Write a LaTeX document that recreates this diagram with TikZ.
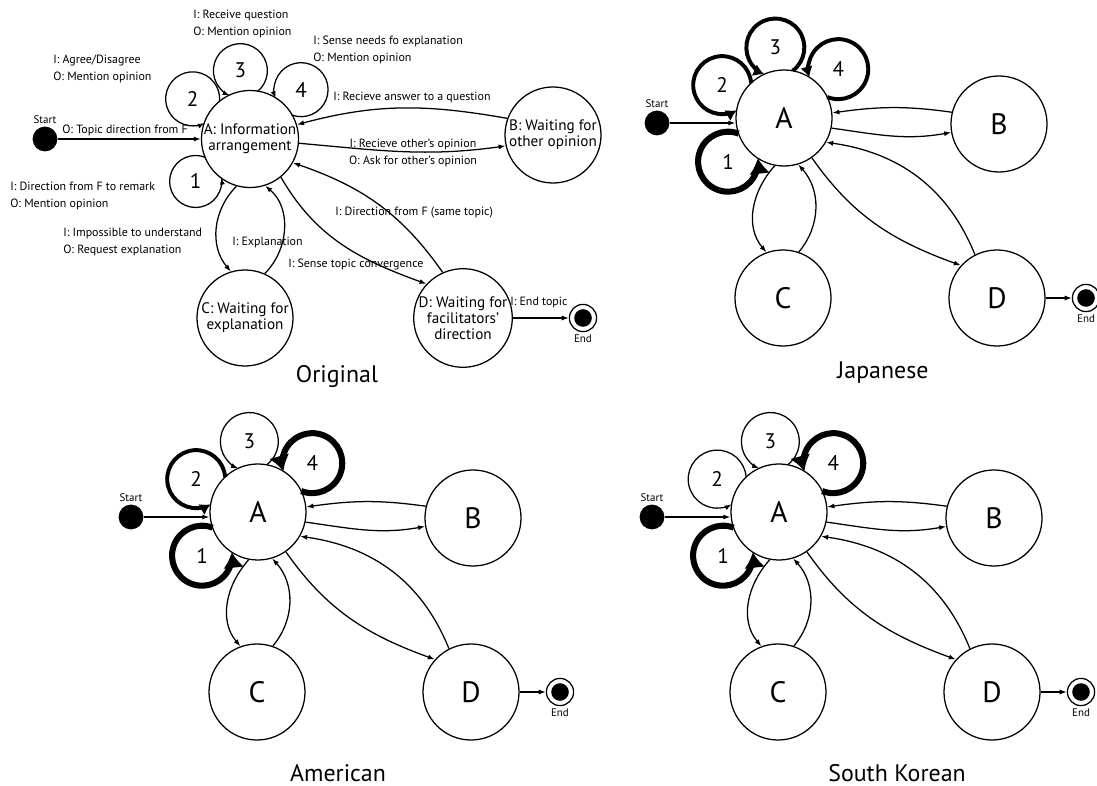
\documentclass[tikz,border=0pt]{standalone}
\usepackage{fontspec}
\setmainfont{PT Sans}
\usetikzlibrary{arrows.meta,calc}

\tikzset{
  state/.style={circle, draw, line width=0.9pt, minimum size=2.4cm, inner sep=0pt, align=center,
    font=\fontsize{10.8}{11.5}\selectfont},
  letter/.style={state, font=\fontsize{21}{21}\selectfont},
  note/.style={anchor=west, align=left, inner sep=0pt, font=\fontsize{8.5}{11.5}\selectfont},
  tag/.style={inner sep=1.5pt, font=\fontsize{7.8}{8}\selectfont},
  digit/.style={inner sep=0pt, font=\fontsize{15}{15}\selectfont},
  caption/.style={inner sep=0pt, font=\fontsize{17}{17}\selectfont},
  startdot/.style={circle, fill=black, minimum size=0.62cm, inner sep=0pt},
  enddot/.style={circle, draw, line width=0.9pt, minimum size=0.68cm, inner sep=0pt,
    path picture={\fill (path picture bounding box.center) circle (0.22cm);}},
  arr/.style={line width=0.9pt, -{Latex[length=5pt, width=3.6pt]}},
  thinloop/.style={arr},
  thickloop/.style={line width=2.8pt, -{Latex[length=7.5pt, width=9pt]}},
  heavyloop/.style={line width=4.3pt, -{Latex[length=11pt, width=15pt]}}
}

% self transition drawn as a circle round the state:
% style, state, angle, distance, radius, name, number
\newcommand{\selfloop}[7]{%
  \pgfmathsetmacro{\lphi}{acos((#4*#4+#5*#5-48*48)/(2*#4*#5))}%
  \pgfmathsetmacro{\lbeg}{#3+180+\lphi}%
  \pgfmathsetmacro{\lfin}{#3+540-\lphi}%
  \draw[#1] ($(#2.center)+(#3:#4)+(\lbeg:#5)$) arc[start angle=\lbeg, end angle=\lfin, radius=#5];
  \node[digit] (#6) at ($(#2.center)+(#3:#4)$) {#7};
}

% chart with lettered states only, placed by the centre of A:
% prefix, position, loop styles 1 to 4, caption, caption offset
\newcommand{\stateview}[8]{%
  \begin{scope}[shift={#2}]
    \node[letter] (#1A) at (0,0) {A};
    \node[letter] (#1B) at (215,-6) {B};
    \node[letter] (#1C) at (-1,-180) {C};
    \node[letter] (#1D) at (213,-180) {D};
    \node[startdot, label={[tag, name=#1st]above:Start}] (#1S) at (-127,-5) {};
    \node[enddot, label={[tag, name=#1en]below:End}] (#1E) at (302,-180) {};
    \selfloop{#3}{#1A}{218}{71}{30}{#1l1}{1}
    \selfloop{#4}{#1A}{152}{70}{29}{#1l2}{2}
    \selfloop{#5}{#1A}{97}{71}{29}{#1l3}{3}
    \selfloop{#6}{#1A}{42}{73}{30}{#1l4}{4}
    \draw[arr] (#1S) -- (#1S -| #1A.west);
    \draw[arr] (#1B.166) to[out=172, in=8] (#1A.6);
    \draw[arr] (#1A.348) to[out=-8, in=190] (#1B.190);
    \draw[arr] (#1A.259) to[out=228, in=130] (#1C.110);
    \draw[arr] (#1C.71) to[out=50, in=-48] (#1A.287);
    \draw[arr] (#1A.305) to[out=-55, in=160] (#1D.138);
    \draw[arr] (#1D.117) to[out=112, in=-8] (#1A.330);
    \draw[arr] (#1D) -- (#1E);
    \node[caption] (#1cap) at #8 {#7};
  \end{scope}}

\begin{document}
\begin{tikzpicture}[x=0.025cm, y=0.025cm]
\useasboundingbox (0,0) rectangle (1097,-786);

% original chart, with the input/output notes
\node[state] (oA) at (250,-139) {A: Information\\arrangement};
\node[state] (oB) at (553,-135) {B: Waiting for\\other opinion};
\node[state] (oC) at (245,-318) {C: Waiting for\\explanation};
\node[state] (oD) at (463,-318) {D: Waiting for\\facilitators'\\direction};
\node[startdot, label={[tag, name=ost]above:Start}] (oS) at (45,-139) {};
\node[enddot, label={[tag, name=oen]below:End}] (oE) at (583,-318) {};
\selfloop{thinloop}{oA}{218}{69}{26}{ol1}{1}
\selfloop{thinloop}{oA}{145}{70}{27}{ol2}{2}
\selfloop{thinloop}{oA}{98}{69}{27}{ol3}{3}
\selfloop{thinloop}{oA}{44}{71}{27}{ol4}{4}
\draw[arr] (oS) -- (oA);
\draw[arr] (oB.160) to[out=170, in=15] (oA.17);
\draw[arr] (oA.355) to[out=-5, in=188] (oB.193);
\draw[arr] (oA.254) to[out=225, in=130] (oC.107);
\draw[arr] (oC.66) to[out=45, in=-40] (oA.288);
\draw[arr] (oA.309) to[out=-60, in=160] (oD.137);
\draw[arr] (oD.114) to[out=125, in=-19] (oA.331);
\draw[arr] (oD) -- (oE);
\node[note] (n1) at (193,-24) {I: Receive question\\O: Mention opinion};
\node[note] (n2) at (53,-69) {I: Agree/Disagree\\O: Mention opinion};
\node[note] (n3) at (313,-50) {I: Sense needs fo explanation\\O: Mention opinion};
\node[note] (n4) at (333,-97) {I: Recieve answer to a question};
\node[note] (n5) at (62,-130) {O: Topic direction from F};
\node[note, anchor=center, align=center] (n6) at (413,-153) {I: Recieve other's opinion\\O: Ask for other's opinion};
\node[note] (n7) at (10,-196) {I: Direction from F to remark\\O: Mention opinion};
\node[note] (n8) at (63,-242) {I: Impossible to understand\\O: Request explanation};
\node[note] (n9) at (232,-242) {I: Explanation};
\node[note] (n10) at (335,-213) {I: Direction from F (same topic)};
\node[note] (n11) at (288,-265) {I: Sense topic convergence};
\node[note] (n12) at (510,-302) {I: End topic};
\node[caption] (ocap) at (337,-377) {Original};

% the three cultures
\stateview{j}{(784,-118)}{heavyloop}{thickloop}{thickloop}{thickloop}{Japanese}{(99,-255)}
\stateview{a}{(258,-512)}{heavyloop}{thickloop}{thinloop}{heavyloop}{American}{(80,-261)}
\stateview{k}{(779,-512)}{heavyloop}{thinloop}{thinloop}{heavyloop}{South Korean}{(118,-261)}
\end{tikzpicture}
\end{document}
